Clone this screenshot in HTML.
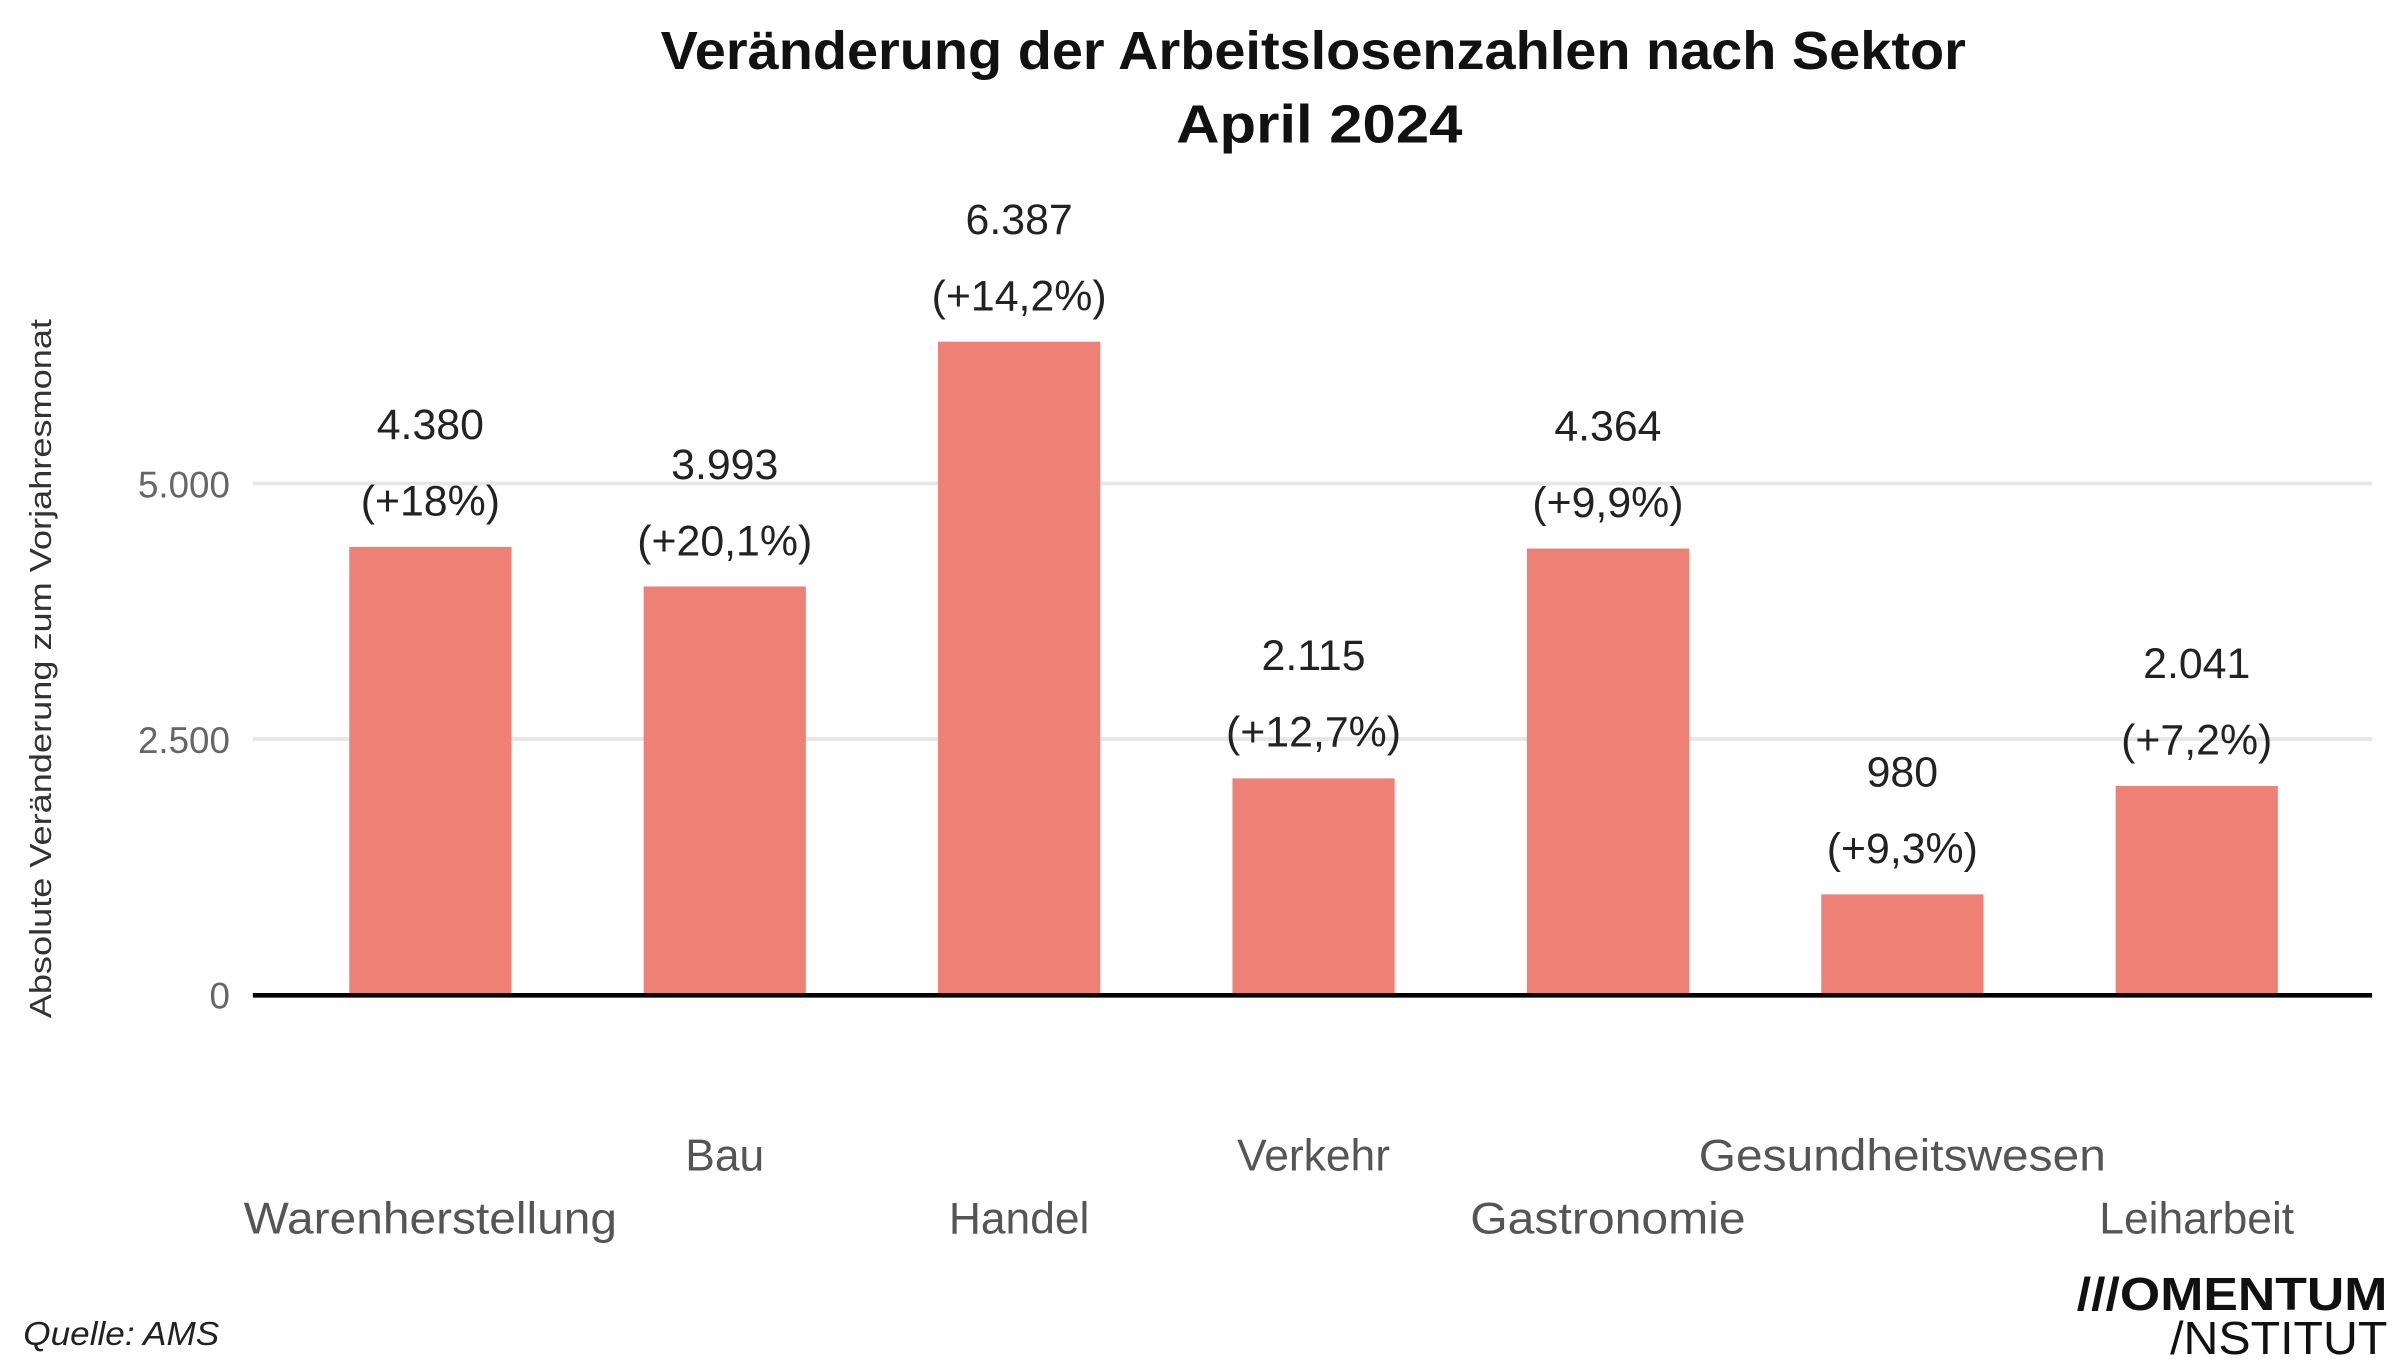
<!DOCTYPE html>
<html><head><meta charset="utf-8"><style>html,body{margin:0;padding:0;background:#fff}svg{display:block}</style></head>
<body>
<svg width="2400" height="1371" viewBox="0 0 1568 896" xmlns="http://www.w3.org/2000/svg" font-family="'Liberation Sans', sans-serif">
<rect width="1568" height="896" fill="#fff"/>
<text x="858" y="45" text-anchor="middle" font-size="35" font-weight="bold" fill="#111" textLength="853" lengthAdjust="spacingAndGlyphs">Veränderung der Arbeitslosenzahlen nach Sektor</text>
<text x="862" y="93" text-anchor="middle" font-size="35" font-weight="bold" fill="#111" textLength="187" lengthAdjust="spacingAndGlyphs">April 2024</text>
<line x1="165" y1="316" x2="1550" y2="316" stroke="#e6e6e6" stroke-width="2.5"/>
<line x1="165" y1="483" x2="1550" y2="483" stroke="#e6e6e6" stroke-width="2.5"/>
<g font-size="24" fill="#666" text-anchor="end">
<text x="150" y="325">5.000</text>
<text x="150" y="492">2.500</text>
<text x="150" y="659">0</text>
</g>
<text transform="translate(33,437) rotate(-90)" text-anchor="middle" font-size="20" fill="#333" textLength="457" lengthAdjust="spacingAndGlyphs">Absolute Veränderung zum Vorjahresmonat</text>
<g fill="#ee8075">
<rect x="228" y="357.4" width="106" height="292.6"/>
<rect x="420.4" y="383.3" width="106" height="266.7"/>
<rect x="612.8" y="223.3" width="106" height="426.7"/>
<rect x="805.2" y="508.7" width="106" height="141.3"/>
<rect x="997.6" y="358.5" width="106" height="291.5"/>
<rect x="1190" y="584.5" width="106" height="65.5"/>
<rect x="1382.4" y="513.7" width="106" height="136.3"/>
</g>
<line x1="165" y1="650.5" x2="1550" y2="650.5" stroke="#000" stroke-width="3"/>
<g font-size="28" fill="#222" text-anchor="middle">
<text x="281" y="287">4.380</text><text x="281" y="337">(+18%)</text>
<text x="473.4" y="313">3.993</text><text x="473.4" y="363">(+20,1%)</text>
<text x="665.8" y="153">6.387</text><text x="665.8" y="203">(+14,2%)</text>
<text x="858.2" y="438">2.115</text><text x="858.2" y="488">(+12,7%)</text>
<text x="1050.6" y="288">4.364</text><text x="1050.6" y="338">(+9,9%)</text>
<text x="1243" y="514">980</text><text x="1243" y="564">(+9,3%)</text>
<text x="1435.4" y="443">2.041</text><text x="1435.4" y="493">(+7,2%)</text>
</g>
<g font-size="29" fill="#555" text-anchor="middle">
<text x="281" y="806" textLength="244" lengthAdjust="spacingAndGlyphs">Warenherstellung</text>
<text x="473.4" y="765">Bau</text>
<text x="665.8" y="806">Handel</text>
<text x="858.2" y="765">Verkehr</text>
<text x="1050.6" y="806" textLength="180" lengthAdjust="spacingAndGlyphs">Gastronomie</text>
<text x="1243" y="765" textLength="266" lengthAdjust="spacingAndGlyphs">Gesundheitswesen</text>
<text x="1435.4" y="806">Leiharbeit</text>
</g>
<text x="15" y="879" font-size="22" font-style="italic" fill="#222" textLength="128" lengthAdjust="spacingAndGlyphs">Quelle: AMS</text>
<text x="1357" y="856" font-size="30" font-weight="bold" fill="#111" textLength="203" lengthAdjust="spacingAndGlyphs">///OMENTUM</text>
<text x="1418" y="885" font-size="30" fill="#111" textLength="142" lengthAdjust="spacingAndGlyphs">/NSTITUT</text>
</svg>
</body></html>
